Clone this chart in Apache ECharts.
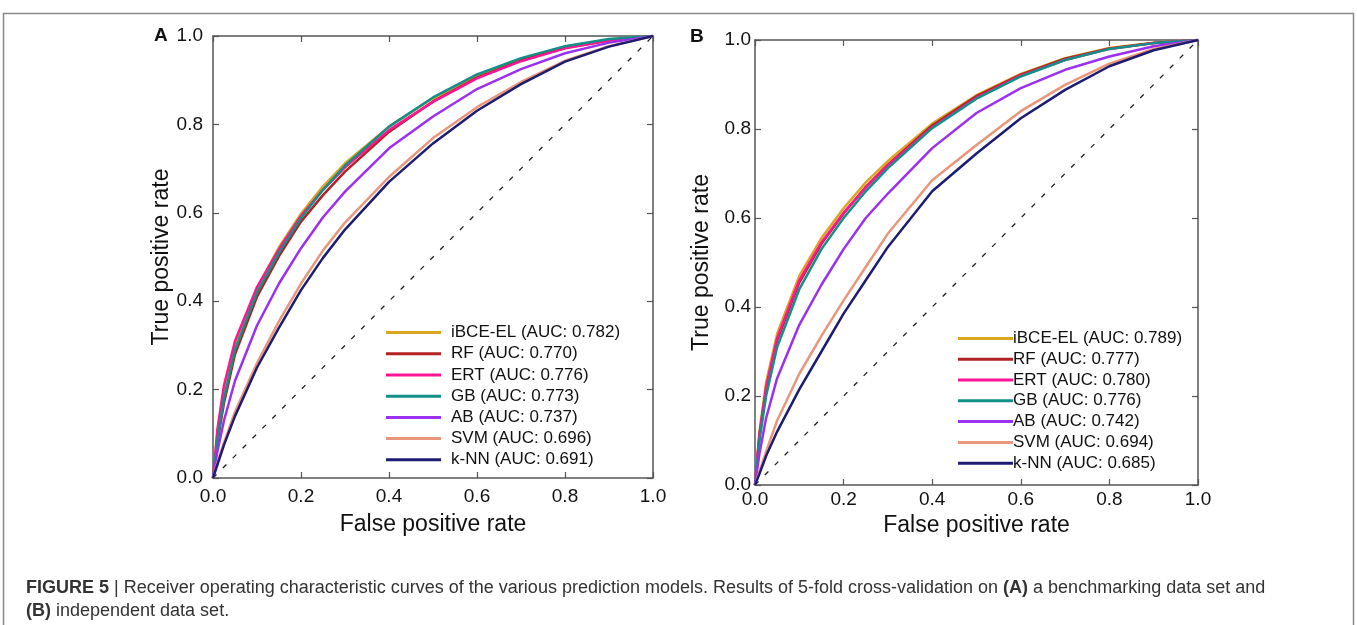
<!DOCTYPE html>
<html>
<head>
<meta charset="utf-8">
<script src="https://cdn.jsdelivr.net/npm/echarts@6/dist/echarts.min.js"></script>
<style>
html, body { margin: 0; padding: 0; background: #fff; }
#roc { width: 1357px; height: 625px; }
</style>
</head>
<body>
<div id="roc"></div>
<script>
// ROC curves of the prediction models, panel A (benchmark) and B (independent)

var fpr = [0, 0.01, 0.025, 0.05, 0.1, 0.15, 0.2, 0.25, 0.3, 0.4, 0.5, 0.6, 0.7, 0.8, 0.9, 1];

var models = ['iBCE-EL', 'RF', 'ERT', 'GB', 'AB', 'SVM', 'k-NN'];
var aucA = ['0.782', '0.770', '0.776', '0.773', '0.737', '0.696', '0.691'];
var aucB = ['0.789', '0.777', '0.780', '0.776', '0.742', '0.694', '0.685'];
var colors = ['#DAA520', '#B22222', '#FF1493', '#11908A', '#9B30F0', '#E9967A', '#1C1C72'];

// true positive rate
var tprA_iBCE = [0, 0.10, 0.20, 0.305, 0.43, 0.522, 0.598, 0.66, 0.712, 0.795, 0.859, 0.911, 0.948, 0.976, 0.992, 1];
var tprA_RF   = [0, 0.08, 0.17, 0.28, 0.41, 0.502, 0.58, 0.64, 0.693, 0.783, 0.852, 0.906, 0.945, 0.973, 0.99, 1];
var tprA_ERT  = [0, 0.11, 0.21, 0.31, 0.432, 0.518, 0.593, 0.652, 0.703, 0.787, 0.851, 0.904, 0.943, 0.972, 0.99, 1];
var tprA_GB   = [0, 0.085, 0.18, 0.29, 0.42, 0.51, 0.588, 0.652, 0.707, 0.795, 0.861, 0.913, 0.95, 0.977, 0.993, 1];
var tprA_AB   = [0, 0.06, 0.13, 0.22, 0.345, 0.44, 0.52, 0.59, 0.648, 0.746, 0.818, 0.88, 0.925, 0.961, 0.985, 1];
var tprA_SVM  = [0, 0.035, 0.08, 0.15, 0.26, 0.355, 0.44, 0.515, 0.578, 0.681, 0.769, 0.839, 0.896, 0.944, 0.977, 1];
var tprA_kNN  = [0, 0.03, 0.075, 0.14, 0.25, 0.34, 0.425, 0.498, 0.562, 0.67, 0.757, 0.831, 0.891, 0.942, 0.976, 1];

// true positive rate
var tprB_iBCE = [0, 0.12, 0.23, 0.34, 0.47, 0.555, 0.622, 0.68, 0.728, 0.812, 0.876, 0.924, 0.959, 0.982, 0.994, 1];
var tprB_RF   = [0, 0.11, 0.215, 0.325, 0.455, 0.542, 0.61, 0.67, 0.72, 0.808, 0.874, 0.922, 0.958, 0.981, 0.993, 1];
var tprB_ERT  = [0, 0.115, 0.22, 0.33, 0.46, 0.545, 0.612, 0.668, 0.718, 0.804, 0.87, 0.92, 0.955, 0.98, 0.993, 1];
var tprB_GB   = [0, 0.1, 0.2, 0.31, 0.44, 0.53, 0.6, 0.66, 0.712, 0.802, 0.868, 0.918, 0.955, 0.98, 0.993, 1];
var tprB_AB   = [0, 0.07, 0.15, 0.24, 0.36, 0.45, 0.53, 0.6, 0.655, 0.757, 0.836, 0.892, 0.933, 0.963, 0.986, 1];
var tprB_SVM  = [0, 0.03, 0.075, 0.145, 0.25, 0.335, 0.415, 0.49, 0.565, 0.685, 0.764, 0.84, 0.899, 0.947, 0.98, 1];
var tprB_kNN  = [0, 0.025, 0.065, 0.12, 0.215, 0.3, 0.385, 0.46, 0.535, 0.66, 0.745, 0.824, 0.888, 0.941, 0.977, 1];

var tprA = [tprA_iBCE, tprA_RF, tprA_ERT, tprA_GB, tprA_AB, tprA_SVM, tprA_kNN];
var tprB = [tprB_iBCE, tprB_RF, tprB_ERT, tprB_GB, tprB_AB, tprB_SVM, tprB_kNN];

var chanceLine = [[0, 0], [1, 1]];

var font = '"Liberation Sans", Arial, Helvetica, sans-serif';
var frameColor = '#555';

var rocChart = echarts.init(document.getElementById('roc'));

function makeAxis(gridIndex, position, opts) {
    var isX = position === 'bottom' || position === 'top';
    var main = position === 'bottom' || position === 'left';
    var axis = {
        type: 'value',
        gridIndex: gridIndex,
        position: position,
        min: 0,
        max: 1,
        interval: 0.2,
        axisLine: { show: true, onZero: false, lineStyle: { color: frameColor, width: 1.5 } },
        axisTick: { show: true, inside: true, length: 6, lineStyle: { color: frameColor, width: 1.2 } },
        splitLine: { show: false },
        axisLabel: {
            show: main,
            fontFamily: font,
            fontSize: 19,
            color: '#111',
            margin: opts.margin,
            formatter: function (v) { return v.toFixed(1); }
        }
    };
    if (main) {
        axis.name = isX ? 'False positive rate' : 'True positive rate';
        axis.nameLocation = 'middle';
        axis.nameGap = opts.nameGap;
        axis.nameTextStyle = { fontFamily: font, fontSize: 23, color: '#111' };
    }
    return axis;
}

function makeSeries(tprList, aucList, axisIndex) {
    var out = tprList.map(function (tpr, i) {
        return {
            name: models[i] + ' (AUC: ' + aucList[i] + ')',
            type: 'line',
            xAxisIndex: axisIndex,
            yAxisIndex: axisIndex,
            data: fpr.map(function (x, j) { return [x, tpr[j]]; }),
            color: colors[i],
            symbol: 'none',
            smooth: false,
            lineStyle: { width: 2.5 },
            z: 3
        };
    });
    out.push({
        name: 'chance',
        type: 'line',
        xAxisIndex: axisIndex,
        yAxisIndex: axisIndex,
        data: chanceLine,
        symbol: 'none',
        silent: true,
        lineStyle: { color: '#222', width: 1.3, type: [5, 9] },
        z: 2
    });
    return out;
}

function legendNames(aucList) {
    return models.map(function (m, i) { return m + ' (AUC: ' + aucList[i] + ')'; });
}

var rocOption = {
    backgroundColor: '#fff',
    animation: false,
    grid: [
        { left: 213, top: 36, width: 440, height: 442 },
        { left: 755, top: 40, width: 443, height: 445 }
    ],
    xAxis: [
        makeAxis(0, 'bottom', { margin: 9, nameGap: 35 }),
        makeAxis(0, 'top', {}),
        makeAxis(1, 'bottom', { margin: 5, nameGap: 29 }),
        makeAxis(1, 'top', {})
    ],
    yAxis: [
        makeAxis(0, 'left', { margin: 10, nameGap: 36 }),
        makeAxis(0, 'right', {}),
        makeAxis(1, 'left', { margin: 4, nameGap: 42 }),
        makeAxis(1, 'right', {})
    ],
    legend: [
        {
            data: legendNames(aucA),
            orient: 'vertical',
            left: 386,
            top: 322,
            padding: 0,
            itemGap: 0,
            icon: 'rect',
            itemWidth: 55,
            itemHeight: 3,
            textStyle: { fontFamily: font, fontSize: 17, color: '#111', lineHeight: 21.2, padding: [0, 0, 0, 5] }
        },
        {
            data: legendNames(aucB),
            orient: 'vertical',
            left: 958,
            top: 328,
            padding: 0,
            itemGap: 0,
            icon: 'rect',
            itemWidth: 55,
            itemHeight: 3,
            textStyle: { fontFamily: font, fontSize: 17, color: '#111', lineHeight: 20.8, padding: [0, 0, 0, -5] }
        }
    ],
    series: makeSeries(tprA, aucA, 0).concat(makeSeries(tprB, aucB, 2)),
    graphic: [
        {
            type: 'rect',
            shape: { x: 3.5, y: 13.5, width: 1350, height: 700 },
            style: { fill: 'none', stroke: '#888', lineWidth: 1.5 },
            silent: true
        },
        {
            type: 'text', x: 154, y: 36,
            style: { text: 'A', font: 'bold 19px ' + font, fill: '#111', verticalAlign: 'middle' }
        },
        {
            type: 'text', x: 690, y: 37,
            style: { text: 'B', font: 'bold 19px ' + font, fill: '#111', verticalAlign: 'middle' }
        },
        {
            type: 'text', x: 26, y: 588,
            style: {
                text: '{b|FIGURE 5} {g||} Receiver operating characteristic curves of the various prediction models. Results of 5-fold cross-validation on {b|(A)} a benchmarking data set and',
                font: '18px ' + font,
                fill: '#333',
                verticalAlign: 'middle',
                rich: {
                    b: { fontFamily: font, fontSize: 18, fontWeight: 'bold', color: '#222' },
                    g: { fontFamily: font, fontSize: 18, color: '#999' }
                }
            }
        },
        {
            type: 'text', x: 26, y: 611,
            style: {
                text: '{b|(B)} independent data set.',
                font: '18px ' + font,
                fill: '#333',
                verticalAlign: 'middle',
                rich: {
                    b: { fontFamily: font, fontSize: 18, fontWeight: 'bold', color: '#222' }
                }
            }
        }
    ]
};

rocChart.setOption(rocOption);
</script>
</body>
</html>
